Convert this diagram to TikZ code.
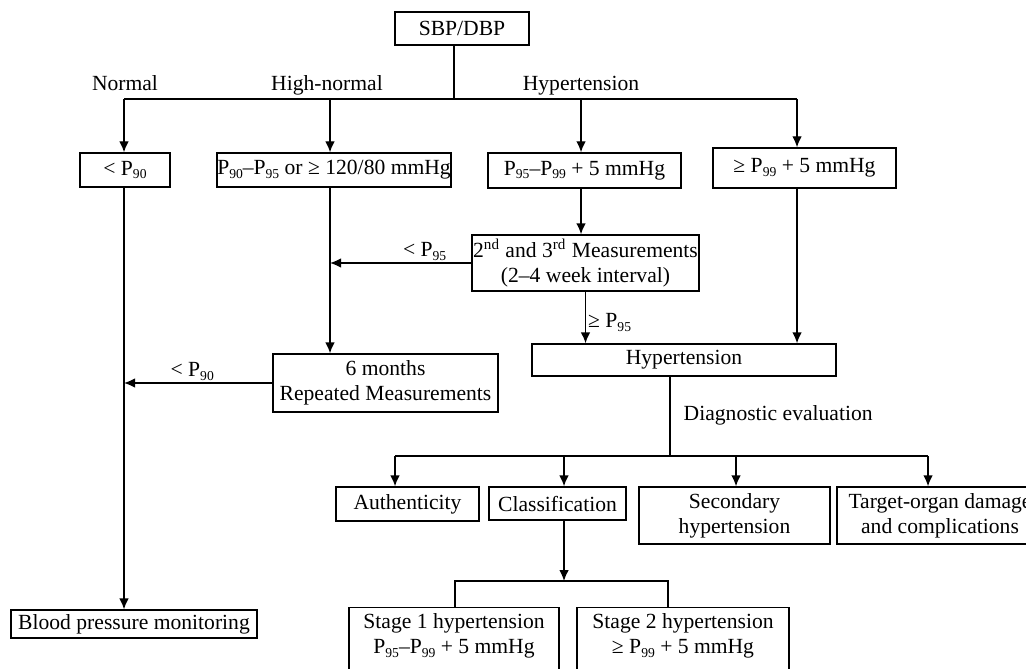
\documentclass[tikz,border=0pt]{standalone}
\usepackage{fontspec}
\setmainfont{Liberation Serif}
\usetikzlibrary{positioning,calc,arrows.meta}
\def\Pc#1{P\raisebox{-0.35ex}{\fontsize{6.8}{7}\selectfont #1}}
\tikzset{bx/.style={draw,rectangle,inner sep=0pt,align=center,font=\fontsize{10.8}{12.5}\selectfont}}
\tikzset{lbl/.style={inner sep=1pt,font=\fontsize{10.8}{12.5}\selectfont}}
\tikzset{>={Latex[length=5.5pt,width=4.8pt]}}

\begin{document}
\begin{tikzpicture}[x=0.5pt,y=-0.5pt,line width=0.7pt]
\useasboundingbox (0,0) rectangle (1026,668);
\clip (0,0) rectangle (1026,668);

	\node[bx,minimum width=67pt,minimum height=16.5pt] (sbp) at (462,28.5) {SBP/DBP};
	\node[bx,minimum width=45pt,minimum height=17pt] (lown) at (125,170) {< \Pc{90}};
	\node[bx,minimum width=117pt,minimum height=17pt] (hinorm) at (334,170) {\Pc{90}–\Pc{95} or ≥ 120/80 mmHg};
	\node[bx,minimum width=96.5pt,minimum height=17.5pt] (stgone) at (584.5,170.5) {\Pc{95}–\Pc{99} + 5 mmHg};
	\node[bx,minimum width=91.5pt,minimum height=20pt] (stgtwo) at (804.5,168) {≥ \Pc{99} + 5 mmHg};
	\node[bx,minimum width=113.5pt,minimum height=28pt] (meas) at (585.5,263) {2\textsuperscript{nd} and 3\textsuperscript{rd} Measurements\\(2–4 week interval)};
	\node[bx,minimum width=152pt,minimum height=16pt] (hyp) at (684,360) {Hypertension};
	\node[bx,minimum width=112.5pt,minimum height=29pt] (six) at (385.5,383) {6 months\\Repeated Measurements};
	\node[bx,minimum width=71.5pt,minimum height=17pt] (auth) at (407.5,504) {Authenticity};
	\node[bx,minimum width=68.5pt,minimum height=16.5pt] (cls) at (557.5,503.5) {Classification};
	\node[bx,minimum width=95.5pt,minimum height=28.5pt] (sec) at (734.5,515.5) {Secondary\\hypertension};
	\node[bx,minimum width=103pt,minimum height=28.5pt] (tgt) at (940,515.5) {Target-organ damage\\and complications};
	\node[bx,minimum width=123pt,minimum height=14pt] (bpm) at (134,624) {Blood pressure monitoring};
	\node[bx,anchor=north,minimum width=105pt,inner ysep=3pt,text depth=30pt] (st1) at (454,607) {Stage 1 hypertension\\\Pc{95}–\Pc{99} + 5 mmHg};
	\node[bx,anchor=north,minimum width=106pt,inner ysep=3pt,text depth=30pt] (st2) at (683,607) {Stage 2 hypertension\\≥ \Pc{99} + 5 mmHg};

	\node[lbl,anchor=base] (lnorm) at (125,90.5) {Normal};
	\node[lbl,anchor=base] (lhigh) at (327,90.5) {High-normal};
	\node[lbl,anchor=base] (lhyp) at (581,90.5) {Hypertension};
	\node[lbl,anchor=base west] (ldiag) at (681,420) {Diagnostic evaluation};

	\coordinate (split) at (454,99);
	\coordinate (bn) at (124,99);
	\coordinate (bh) at (330,99);
	\coordinate (bt) at (581,99);
	\coordinate (bs) at (797,99);
	\draw (sbp.south -| split) -- (split);
	\draw (bn) -- (bs);
	\draw[->] (bn) -- (bn |- lown.north);
	\draw[->] (bh) -- (bh |- hinorm.north);
	\draw[->] (bt) -- (bt |- stgone.north);
	\draw[->] (bs) -- (bs |- stgtwo.north);

	\coordinate (vl) at (330,263);
	\coordinate (vr) at (797,300);
	\coordinate (vm) at (581,230);
	\coordinate (vn) at (124,383);
	\draw[->] (hinorm.south -| vl) -- (six.north -| vl);
	\draw[->] (meas.west) -- (vl) node[lbl,above,pos=.33] {< \Pc{95}};
	\draw[->] (stgone.south -| vm) -- (meas.north -| vm);
	\draw[->] (meas.south) -- (meas.south |- hyp.north) node[lbl,right,pos=.6] {≥ \Pc{95}};
	\draw[->] (stgtwo.south -| vr) -- (hyp.north -| vr);
	\draw[->] (lown.south -| vn) -- (bpm.north -| vn);
	\draw[->] (six.west) -- (vn) node[lbl,above,pos=.54] {< \Pc{90}};

	\coordinate (dv) at (670,456);
	\coordinate (dl) at (395,456);
	\coordinate (dc) at (564,456);
	\coordinate (ds) at (736,456);
	\coordinate (dr) at (928,456);
	\draw (hyp.south -| dv) -- (dv);
	\draw (dl) -- (dr);
	\draw[->] (dl) -- (dl |- auth.north);
	\draw[->] (dc) -- (dc |- cls.north);
	\draw[->] (ds) -- (ds |- sec.north);
	\draw[->] (dr) -- (dr |- tgt.north);

	\coordinate (bl) at (455,581);
	\coordinate (br) at (668,581);
	\draw[->] (cls.south -| dc) -- (dc |- bl);
	\draw (st1.north -| bl) -- (bl) -- (br) -- (st2.north -| br);
\end{tikzpicture}
\end{document}
